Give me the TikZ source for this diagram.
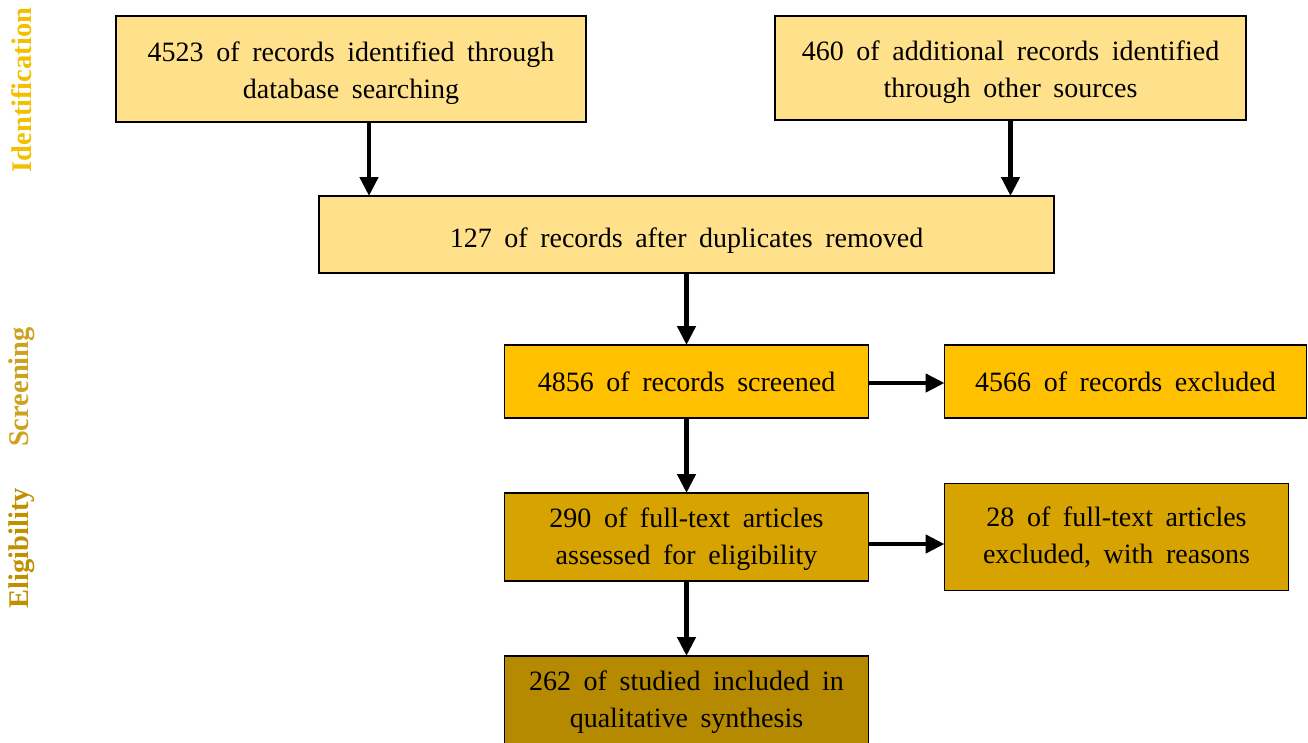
\documentclass[tikz,border=0pt]{standalone}
\usepackage{fontspec}
\setmainfont[WordSpace=1.8]{Liberation Serif}
\usepackage{tikz}
\usetikzlibrary{arrows.meta, positioning}
\definecolor{idfill}{RGB}{255,225,140}
\definecolor{scrfill}{RGB}{255,192,0}
\definecolor{elifill}{RGB}{214,163,0}
\definecolor{incfill}{RGB}{181,138,0}
\definecolor{idlbl}{RGB}{242,192,0}
\definecolor{scrlbl}{RGB}{204,163,30}
\definecolor{elilbl}{RGB}{191,144,0}
\tikzset{
  prismabox/.style={draw=black, line width=1.2pt, fill=#1, inner sep=0pt, outer sep=0pt,
      align=center, font=\fontsize{28}{37}\selectfont},
  stagelbl/.style={rotate=90, font=\fontsize{28.5}{34}\selectfont\bfseries, text=#1},
  myarrow/.style={-{Triangle[length=19pt, width=18pt]}, line width=4.5pt, black},
}
\begin{document}
\begin{tikzpicture}[x=1pt, y=-1pt]
  \useasboundingbox (0,0) rectangle (1308,742);
  % phase labels
  \node[stagelbl=idlbl] (lblid) at (22,90) {Identification};
  \node[stagelbl=scrlbl] (lblscr) at (22,387) {Screening};
  \node[stagelbl=elilbl] (lbleli) at (22,548) {Eligibility};
  % boxes
  \node[prismabox=idfill, minimum width=470pt, minimum height=106pt, text height=66pt] (db) at (351,69)
      {4523 of records identified through\\database searching};
  \node[prismabox=idfill, minimum width=471pt, minimum height=104pt, text height=66pt] (other) at (1010.5,68)
      {460 of additional records identified\\through other sources};
  \node[prismabox=idfill, minimum width=735pt, minimum height=77pt, text height=31pt] (dup) at (686.5,234.5)
      {127 of records after duplicates removed};
  \node[prismabox=scrfill, minimum width=364pt, minimum height=73pt, below=72pt of dup] (screen)
      {4856 of records screened};
  \node[prismabox=scrfill, minimum width=362pt, minimum height=73pt, right=76pt of screen] (excl)
      {4566 of records excluded};
  \node[prismabox=elifill, minimum width=364pt, minimum height=88pt, text height=62pt, below=75pt of screen] (full)
      {290 of full-text articles\\assessed for eligibility};
  \node[prismabox=elifill, minimum width=344pt, minimum height=107pt, right=76pt of full] (fullex)
      {28 of full-text articles\\excluded, with reasons};
  \node[prismabox=incfill, minimum width=364pt, minimum height=92pt, below=75pt of full] (incl)
      {262 of studied included in\\qualitative synthesis};
  % arrows
  \draw[myarrow] ([xshift=18pt]db.south) -- ([xshift=18pt]db.south |- dup.north);
  \draw[myarrow] (other.south) -- (other.south |- dup.north);
  \draw[myarrow] (dup.south -| screen.north) -- (screen.north);
  \draw[myarrow] ([yshift=-1.5pt]screen.east) -- ([yshift=-1.5pt]screen.east -| excl.west);
  \draw[myarrow] (screen.south) -- (full.north);
  \draw[myarrow] ([yshift=-7pt]full.east) -- ([yshift=-7pt]full.east -| fullex.west);
  \draw[myarrow] (full.south) -- (incl.north);
\end{tikzpicture}
\end{document}
